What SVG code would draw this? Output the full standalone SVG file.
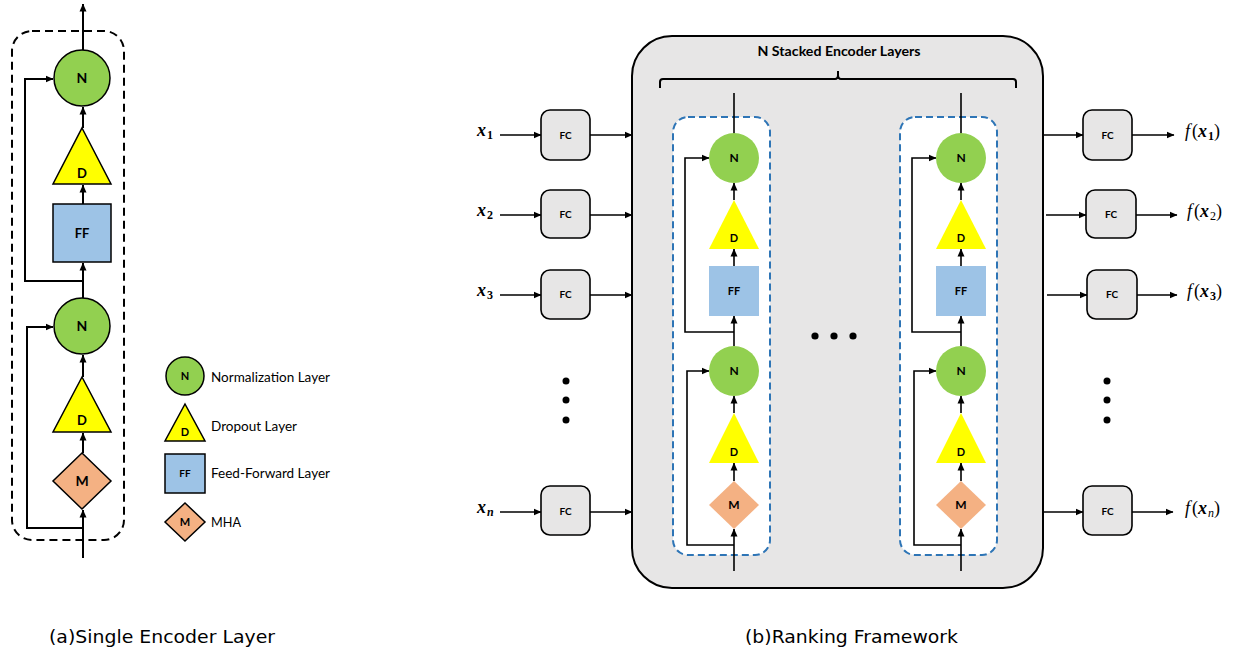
<svg xmlns="http://www.w3.org/2000/svg" width="1235" height="655" viewBox="0 0 1235 655">
<defs>
<marker id="ah" markerWidth="8" markerHeight="8" refX="7.5" refY="4" orient="auto" markerUnits="userSpaceOnUse"><path d="M0,0.5 L8,4 L0,7.5 z" fill="#000"/></marker>
<style>
.ca{stroke:#000;stroke-width:2;fill:none}
.cb{stroke:#000;stroke-width:1.6;fill:none}
.n{fill:#92d050}
.d{fill:#ffff00}
.f{fill:#9dc3e6}
.m{fill:#f4b183}
.sa{stroke:#000;stroke-width:1.5}
.lb{font-family:"Lato","Liberation Sans",sans-serif;font-weight:bold;fill:#000;text-anchor:middle}
.lg{font-family:"Lato","Liberation Sans",sans-serif;font-size:13px;fill:#000}
.fc{fill:#e7e6e6;stroke:#000;stroke-width:1.6}
.mx{font-family:"Liberation Serif",serif;font-size:18px;fill:#000;font-style:italic}
.cap{font-family:"DejaVu Sans","Liberation Sans",sans-serif;font-size:17px;fill:#000}
.dash{fill:none;stroke:#000;stroke-width:2;stroke-dasharray:8,5}
.bdash{fill:#fff;stroke:#2e75b6;stroke-width:2;stroke-dasharray:7,4}
</style>
</defs>
<rect width="1235" height="655" fill="#fff"/>

<!-- Panel a -->
<rect id="enc-a-box" class="dash" x="12" y="31" width="112" height="509" rx="20"/>
<g id="conn-a">
<line class="ca" x1="83" y1="50" x2="83" y2="4" marker-end="url(#ah)"/>
<line class="ca" x1="83" y1="128" x2="83" y2="107" marker-end="url(#ah)"/>
<line class="ca" x1="83" y1="204" x2="83" y2="185" marker-end="url(#ah)"/>
<line class="ca" x1="83" y1="298" x2="83" y2="263" marker-end="url(#ah)"/>
<path class="ca" d="M83,281 H25 V79 H53" marker-end="url(#ah)"/>
<line class="ca" x1="83" y1="377" x2="83" y2="355" marker-end="url(#ah)"/>
<line class="ca" x1="83" y1="453" x2="83" y2="433" marker-end="url(#ah)"/>
<line class="ca" x1="83" y1="558" x2="83" y2="510" marker-end="url(#ah)"/>
<path class="ca" d="M83,528 H27 V327 H53" marker-end="url(#ah)"/>
</g>
<g id="a-N1"><circle class="n sa" cx="82" cy="78" r="28"/><text class="lb" x="82" y="83" font-size="14">N</text></g>
<g id="a-D1"><polygon class="d sa" points="82,128 111,184 53,184"/><text class="lb" x="82" y="178" font-size="13">D</text></g>
<g id="a-FF"><rect class="f sa" x="53" y="204" width="58" height="58"/><text class="lb" x="82" y="238" font-size="13">FF</text></g>
<g id="a-N2"><circle class="n sa" cx="82" cy="326" r="28"/><text class="lb" x="82" y="331" font-size="14">N</text></g>
<g id="a-D2"><polygon class="d sa" points="82,377 111,432 53,432"/><text class="lb" x="82" y="425" font-size="13">D</text></g>
<g id="a-M"><polygon class="m sa" points="82,453 111,481 82,509 53,481"/><text class="lb" x="82" y="486" font-size="14">M</text></g>

<!-- Legend -->
<g id="legend-N"><circle class="n sa" cx="185" cy="376" r="19"/><text class="lb" x="185" y="380" font-size="11">N</text><text class="lg" x="211" y="382" textLength="119" lengthAdjust="spacingAndGlyphs">Normalization Layer</text></g>
<g id="legend-D"><polygon class="d sa" points="185,404 205,441 165,441"/><text class="lb" x="185" y="436" font-size="11">D</text><text class="lg" x="211" y="431" textLength="86" lengthAdjust="spacingAndGlyphs">Dropout Layer</text></g>
<g id="legend-FF"><rect class="f sa" x="165" y="454" width="40" height="39"/><text class="lb" x="185" y="477" font-size="10">FF</text><text class="lg" x="211" y="478" textLength="119" lengthAdjust="spacingAndGlyphs">Feed-Forward Layer</text></g>
<g id="legend-M"><polygon class="m sa" points="185,503 205,522 185,541 165,522"/><text class="lb" x="185" y="526" font-size="11">M</text><text class="lg" x="211" y="527" textLength="30" lengthAdjust="spacingAndGlyphs">MHA</text></g>

<text id="cap-a" class="cap" x="49" y="643" textLength="226" lengthAdjust="spacingAndGlyphs">(a)Single Encoder Layer</text>

<!-- Panel b -->
<g id="stack-box">
<rect x="632" y="36" width="411" height="552" rx="40" fill="#e7e6e6" stroke="#000" stroke-width="2"/>
<text class="lb" x="839" y="56" font-size="13" textLength="163" lengthAdjust="spacingAndGlyphs">N Stacked Encoder Layers</text>
<path d="M660,88 V82 Q660,79 663,79 H835 Q838,79 838,75 V71 M838,75 Q838,79 841,79 H1013 Q1016,79 1016,82 V88" fill="none" stroke="#000" stroke-width="2"/>
</g>
<rect id="enc-b1-box" class="bdash" x="673" y="117" width="97" height="438" rx="15"/>
<rect id="enc-b2-box" class="bdash" x="900" y="117" width="97" height="438" rx="15"/>

<g id="conn-b">
<line class="cb" x1="734" y1="93" x2="734" y2="134"/>
<line class="cb" x1="734" y1="200" x2="734" y2="183" marker-end="url(#ah)"/>
<line class="cb" x1="734" y1="266" x2="734" y2="249" marker-end="url(#ah)"/>
<line class="cb" x1="734" y1="346" x2="734" y2="316" marker-end="url(#ah)"/>
<path class="cb" d="M734,332 H685 V158 H709" marker-end="url(#ah)"/>
<line class="cb" x1="734" y1="413" x2="734" y2="396" marker-end="url(#ah)"/>
<line class="cb" x1="734" y1="481" x2="734" y2="463" marker-end="url(#ah)"/>
<line class="cb" x1="734" y1="571" x2="734" y2="529" marker-end="url(#ah)"/>
<path class="cb" d="M734,545 H687 V371 H709" marker-end="url(#ah)"/>

<line class="cb" x1="961" y1="93" x2="961" y2="134"/>
<line class="cb" x1="961" y1="200" x2="961" y2="183" marker-end="url(#ah)"/>
<line class="cb" x1="961" y1="266" x2="961" y2="249" marker-end="url(#ah)"/>
<line class="cb" x1="961" y1="346" x2="961" y2="316" marker-end="url(#ah)"/>
<path class="cb" d="M961,332 H912 V158 H936" marker-end="url(#ah)"/>
<line class="cb" x1="961" y1="413" x2="961" y2="396" marker-end="url(#ah)"/>
<line class="cb" x1="961" y1="481" x2="961" y2="463" marker-end="url(#ah)"/>
<line class="cb" x1="961" y1="571" x2="961" y2="529" marker-end="url(#ah)"/>
<path class="cb" d="M961,545 H914 V371 H936" marker-end="url(#ah)"/>

<line class="cb" x1="500" y1="135" x2="541" y2="135" marker-end="url(#ah)"/>
<line class="cb" x1="590" y1="135" x2="632" y2="135" marker-end="url(#ah)"/>
<line class="cb" x1="500" y1="215" x2="541" y2="215" marker-end="url(#ah)"/>
<line class="cb" x1="590" y1="215" x2="632" y2="215" marker-end="url(#ah)"/>
<line class="cb" x1="500" y1="295" x2="541" y2="295" marker-end="url(#ah)"/>
<line class="cb" x1="590" y1="295" x2="632" y2="295" marker-end="url(#ah)"/>
<line class="cb" x1="500" y1="512" x2="541" y2="512" marker-end="url(#ah)"/>
<line class="cb" x1="590" y1="512" x2="632" y2="512" marker-end="url(#ah)"/>

<line class="cb" x1="1043" y1="135" x2="1083" y2="135" marker-end="url(#ah)"/>
<line class="cb" x1="1132" y1="135" x2="1174" y2="135" marker-end="url(#ah)"/>
<line class="cb" x1="1046" y1="215" x2="1086" y2="215" marker-end="url(#ah)"/>
<line class="cb" x1="1136" y1="215" x2="1177" y2="215" marker-end="url(#ah)"/>
<line class="cb" x1="1047" y1="295" x2="1087" y2="295" marker-end="url(#ah)"/>
<line class="cb" x1="1137" y1="295" x2="1177" y2="295" marker-end="url(#ah)"/>
<line class="cb" x1="1043" y1="512" x2="1083" y2="512" marker-end="url(#ah)"/>
<line class="cb" x1="1132" y1="512" x2="1173" y2="512" marker-end="url(#ah)"/>
</g>

<g id="b1-N1"><circle class="n" cx="734" cy="158" r="25"/><text class="lb" x="734" y="162" font-size="12">N</text></g>
<g id="b1-D1"><polygon class="d" points="734,200 759,249 709,249"/><text class="lb" x="734" y="242" font-size="11">D</text></g>
<g id="b1-FF"><rect class="f" x="709" y="266" width="50" height="50"/><text class="lb" x="734" y="295" font-size="11">FF</text></g>
<g id="b1-N2"><circle class="n" cx="734" cy="371" r="25"/><text class="lb" x="734" y="375" font-size="12">N</text></g>
<g id="b1-D2"><polygon class="d" points="734,413 759,463 709,463"/><text class="lb" x="734" y="456" font-size="11">D</text></g>
<g id="b1-M"><polygon class="m" points="734,481 759,505 734,529 709,505"/><text class="lb" x="734" y="509" font-size="12">M</text></g>

<g id="b2-N1"><circle class="n" cx="961" cy="158" r="25"/><text class="lb" x="961" y="162" font-size="12">N</text></g>
<g id="b2-D1"><polygon class="d" points="961,200 986,249 936,249"/><text class="lb" x="961" y="242" font-size="11">D</text></g>
<g id="b2-FF"><rect class="f" x="936" y="266" width="50" height="50"/><text class="lb" x="961" y="295" font-size="11">FF</text></g>
<g id="b2-N2"><circle class="n" cx="961" cy="371" r="25"/><text class="lb" x="961" y="375" font-size="12">N</text></g>
<g id="b2-D2"><polygon class="d" points="961,413 986,463 936,463"/><text class="lb" x="961" y="456" font-size="11">D</text></g>
<g id="b2-M"><polygon class="m" points="961,481 986,505 961,529 936,505"/><text class="lb" x="961" y="509" font-size="12">M</text></g>

<g id="dots-mid" fill="#000"><circle cx="815" cy="336" r="3.6"/><circle cx="834" cy="336" r="3.6"/><circle cx="853" cy="336" r="3.6"/></g>
<g id="dots-left" fill="#000"><circle cx="566" cy="381" r="3.5"/><circle cx="566" cy="400" r="3.5"/><circle cx="566" cy="420" r="3.5"/></g>
<g id="dots-right" fill="#000"><circle cx="1107" cy="381" r="3.5"/><circle cx="1107" cy="400" r="3.5"/><circle cx="1107" cy="420" r="3.5"/></g>

<g id="in-x1"><text class="mx" x="477" y="136" font-weight="bold">x<tspan font-size="12" font-style="normal" dx="1" dy="3">1</tspan></text></g>
<g id="in-x2"><text class="mx" x="477" y="216" font-weight="bold">x<tspan font-size="12" font-style="normal" dx="1" dy="3">2</tspan></text></g>
<g id="in-x3"><text class="mx" x="477" y="296" font-weight="bold">x<tspan font-size="12" font-style="normal" dx="1" dy="3">3</tspan></text></g>
<g id="in-xn"><text class="mx" x="477" y="513" font-weight="bold">x<tspan font-size="12" dx="1" dy="3">n</tspan></text></g>

<g id="fc-in1"><rect class="fc" x="541" y="110" width="49" height="50" rx="9"/><text class="lb" x="565.5" y="139" font-size="10">FC</text></g>
<g id="fc-in2"><rect class="fc" x="541" y="190" width="49" height="48" rx="9"/><text class="lb" x="565.5" y="218" font-size="10">FC</text></g>
<g id="fc-in3"><rect class="fc" x="541" y="270" width="49" height="49" rx="9"/><text class="lb" x="565.5" y="298" font-size="10">FC</text></g>
<g id="fc-inn"><rect class="fc" x="541" y="486" width="49" height="49" rx="9"/><text class="lb" x="565.5" y="515" font-size="10">FC</text></g>

<g id="fc-out1"><rect class="fc" x="1083" y="110" width="49" height="50" rx="9"/><text class="lb" x="1107.5" y="139" font-size="10">FC</text></g>
<g id="fc-out2"><rect class="fc" x="1086" y="190" width="50" height="48" rx="9"/><text class="lb" x="1111" y="218" font-size="10">FC</text></g>
<g id="fc-out3"><rect class="fc" x="1087" y="270" width="50" height="49" rx="9"/><text class="lb" x="1112" y="298" font-size="10">FC</text></g>
<g id="fc-outn"><rect class="fc" x="1083" y="486" width="49" height="49" rx="9"/><text class="lb" x="1107.5" y="515" font-size="10">FC</text></g>

<g id="out-f1"><text class="mx" x="1185" y="137">f<tspan font-style="normal" dx="2">(</tspan><tspan font-weight="bold">x</tspan><tspan font-size="12" font-style="normal" font-weight="bold" dx="1" dy="3">1</tspan><tspan font-style="normal" dy="-3">)</tspan></text></g>
<g id="out-f2"><text class="mx" x="1187" y="217">f<tspan font-style="normal" dx="2">(</tspan><tspan font-weight="bold">x</tspan><tspan font-size="12" font-style="normal" dx="1" dy="3">2</tspan><tspan font-style="normal" dy="-3">)</tspan></text></g>
<g id="out-f3"><text class="mx" x="1187" y="297">f<tspan font-style="normal" dx="2">(</tspan><tspan font-weight="bold">x</tspan><tspan font-size="12" font-style="normal" font-weight="bold" dx="1" dy="3">3</tspan><tspan font-style="normal" dy="-3">)</tspan></text></g>
<g id="out-fn"><text class="mx" x="1185" y="514">f<tspan font-style="normal" dx="2">(</tspan><tspan font-weight="bold">x</tspan><tspan font-size="12" dx="1" dy="3">n</tspan><tspan font-style="normal" dy="-3">)</tspan></text></g>

<text id="cap-b" class="cap" x="745" y="643" textLength="213" lengthAdjust="spacingAndGlyphs">(b)Ranking Framework</text>
</svg>
